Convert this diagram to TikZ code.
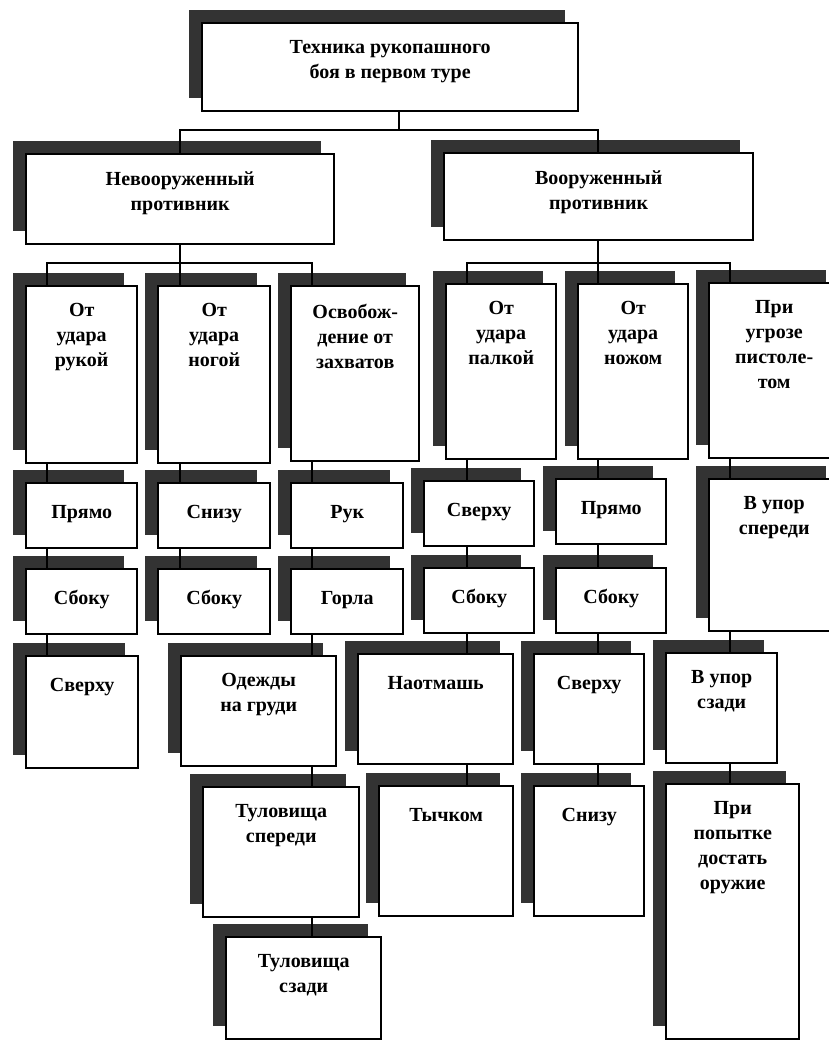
\documentclass[tikz,border=0pt]{standalone}
\usepackage{fontspec}
\setmainfont{Liberation Serif}
\usetikzlibrary{shadows}
\tikzset{
  bx/.style={draw, line width=2.4pt, fill=white, anchor=north west, inner sep=0pt,
    general shadow={fill=black!80, shadow xshift=-13pt, shadow yshift=13pt}},
  lab/.style={anchor=north, inner sep=0pt, yshift=-18.5pt, align=center,
    font=\fontsize{20}{25}\selectfont\bfseries, execute at begin node=\strut},
  ln/.style={line width=2pt}
}
\newcommand\mybox[5]{%
  \node[bx, minimum width=#3pt, minimum height=#4pt,
        label={[lab]north:{#5}}] (#1) at (#2) {};}
\begin{document}
\begin{tikzpicture}[x=1pt,y=-1pt]
\useasboundingbox (0,0) rectangle (829,1041);
\fill[white] (0,0) rectangle (829,1041);
\clip (0,0) rectangle (829,1041);
% columns
\coordinate (c1) at (47,0);
\coordinate (c2) at (180,0);
\coordinate (c3) at (312,0);
\coordinate (c4) at (467,0);
\coordinate (c5) at (598,0);
\coordinate (c6) at (730,0);
\coordinate (k0) at (399,130);
\coordinate (k1) at (180,263);
\coordinate (k2) at (598,263);
% boxes
\mybox{root}{201,22}{376}{88}{Техника рукопашного\\боя в первом туре}
\mybox{nev}{25,153}{308}{90}{Невооруженный\\противник}
\mybox{voor}{443,152}{309}{87}{Вооруженный\\противник}
\mybox{b1}{25,285}{111}{177}{От\\удара\\рукой}
\mybox{b2}{157,285}{112}{177}{От\\удара\\ногой}
\mybox{b3}{290,285}{128}{175}{Освобож-\\дение от\\захватов}
\mybox{b4}{445,283}{110}{175}{От\\удара\\палкой}
\mybox{b5}{577,283}{110}{175}{От\\удара\\ножом}
\mybox{b6}{708,282}{130}{175}{При\\угрозе\\пистоле-\\том}
\mybox{r1}{25,482}{111}{65}{Прямо}
\mybox{r2}{157,482}{112}{65}{Снизу}
\mybox{r3}{290,482}{112}{65}{Рук}
\mybox{r4}{423,480}{110}{65}{Сверху}
\mybox{r5}{555,478}{110}{65}{Прямо}
\mybox{r6}{708,478}{130}{152}{В упор\\спереди}
\mybox{s1}{25,568}{111}{65}{Сбоку}
\mybox{s2}{157,568}{112}{65}{Сбоку}
\mybox{s3}{290,568}{112}{65}{Горла}
\mybox{s4}{423,567}{110}{65}{Сбоку}
\mybox{s5}{555,567}{110}{65}{Сбоку}
\mybox{t1}{25,655}{112}{112}{Сверху}
\mybox{t3}{180,655}{155}{110}{Одежды\\на груди}
\mybox{t4}{357,653}{155}{110}{Наотмашь}
\mybox{t5}{533,653}{110}{110}{Сверху}
\mybox{t6}{665,652}{111}{110}{В упор\\сзади}
\mybox{u3}{202,786}{156}{130}{Туловища\\спереди}
\mybox{u4}{378,785}{134}{130}{Тычком}
\mybox{u5}{533,785}{110}{130}{Снизу}
\mybox{u6}{665,783}{133}{255}{При\\попытке\\достать\\оружие}
\mybox{v3}{225,936}{155}{102}{Туловища\\сзади}
% connectors
\draw[ln] (root.south -| k0) -- (k0);
\draw[ln] (nev.north -| c2) |- (k0) -| (voor.north -| c5);
\draw[ln] (nev.south -| k1) -- (k1);
\draw[ln] (b1.north -| c1) |- (k1) -| (b3.north -| c3);
\draw[ln] (k1) -- (b2.north -| k1);
\draw[ln] (voor.south -| k2) -- (k2);
\draw[ln] (b4.north -| c4) |- (k2) -| (b6.north -| c6);
\draw[ln] (k2) -- (b5.north -| k2);
% column 1
\draw[ln] (b1.south -| c1) -- (r1.north -| c1);
\draw[ln] (r1.south -| c1) -- (s1.north -| c1);
\draw[ln] (s1.south -| c1) -- (t1.north -| c1);
% column 2
\draw[ln] (b2.south -| c2) -- (r2.north -| c2);
\draw[ln] (r2.south -| c2) -- (s2.north -| c2);
% column 3
\draw[ln] (b3.south -| c3) -- (r3.north -| c3);
\draw[ln] (r3.south -| c3) -- (s3.north -| c3);
\draw[ln] (s3.south -| c3) -- (t3.north -| c3);
\draw[ln] (t3.south -| c3) -- (u3.north -| c3);
\draw[ln] (u3.south -| c3) -- (v3.north -| c3);
% column 4
\draw[ln] (b4.south -| c4) -- (r4.north -| c4);
\draw[ln] (r4.south -| c4) -- (s4.north -| c4);
\draw[ln] (s4.south -| c4) -- (t4.north -| c4);
\draw[ln] (t4.south -| c4) -- (u4.north -| c4);
% column 5
\draw[ln] (b5.south -| c5) -- (r5.north -| c5);
\draw[ln] (r5.south -| c5) -- (s5.north -| c5);
\draw[ln] (s5.south -| c5) -- (t5.north -| c5);
\draw[ln] (t5.south -| c5) -- (u5.north -| c5);
% column 6
\draw[ln] (b6.south -| c6) -- (r6.north -| c6);
\draw[ln] (r6.south -| c6) -- (t6.north -| c6);
\draw[ln] (t6.south -| c6) -- (u6.north -| c6);
\end{tikzpicture}
\end{document}
